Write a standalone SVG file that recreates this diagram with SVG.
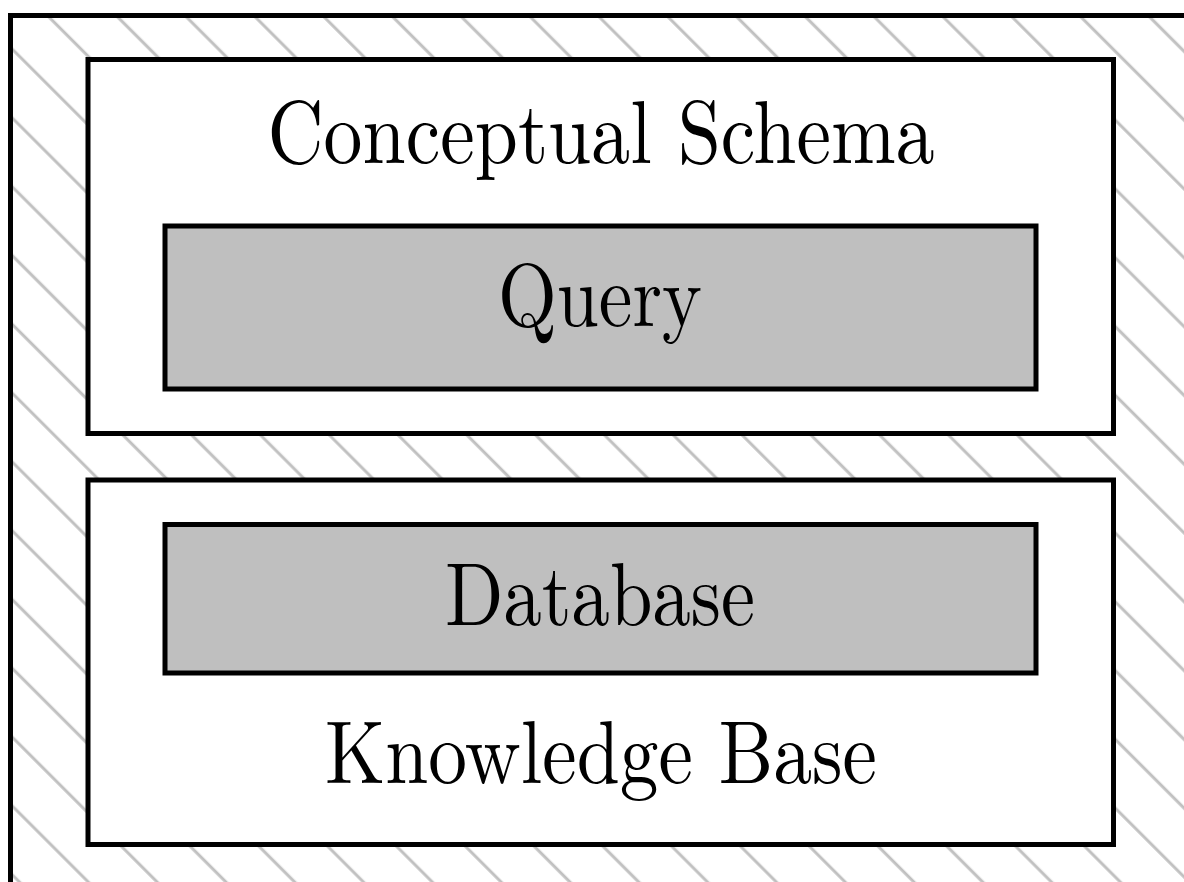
<svg xmlns="http://www.w3.org/2000/svg" width="1184" height="882" viewBox="0 0 1184 882">
  <style>
    .frame { fill: url(#hatch); stroke: #000; stroke-width: 5; }
    .outer { fill: #fff; stroke: #000; stroke-width: 5; }
    .inner { fill: #bfbfbf; stroke: #000; stroke-width: 5; }
    .lbl { font-family: "Latin Modern Roman", "CMU Serif", "Liberation Serif", "DejaVu Serif", serif; font-size: 89px; fill: #000; text-anchor: middle; }
  </style>
  <defs>
    <pattern id="hatch" patternUnits="userSpaceOnUse" width="48.65" height="48.65" patternTransform="rotate(45)">
      <line x1="-10" y1="26.02" x2="60" y2="26.02" stroke="#c0c0c0" stroke-width="3"/>
    </pattern>
  </defs>
  <rect width="1184" height="882" fill="#fff"/>
  <g id="frame">
    <rect class="frame" x="10.5" y="15.5" width="1200" height="900"/>
  </g>
  <g id="conceptual-schema">
    <rect class="outer" x="88" y="59.5" width="1025.5" height="374"/>
    <text class="lbl" x="601" y="163" textLength="667" lengthAdjust="spacingAndGlyphs">Conceptual Schema</text>
  </g>
  <g id="query">
    <rect class="inner" x="165" y="226" width="871" height="163"/>
    <text class="lbl" x="600" y="326" textLength="204" lengthAdjust="spacingAndGlyphs">Query</text>
  </g>
  <g id="knowledge-base">
    <rect class="outer" x="88" y="480" width="1025.5" height="364.5"/>
    <text class="lbl" x="601" y="783" textLength="552" lengthAdjust="spacingAndGlyphs">Knowledge Base</text>
  </g>
  <g id="database">
    <rect class="inner" x="165" y="524.5" width="871" height="148.5"/>
    <text class="lbl" x="600" y="625" textLength="310" lengthAdjust="spacingAndGlyphs">Database</text>
  </g>
  <g id="connectors"></g>
</svg>
